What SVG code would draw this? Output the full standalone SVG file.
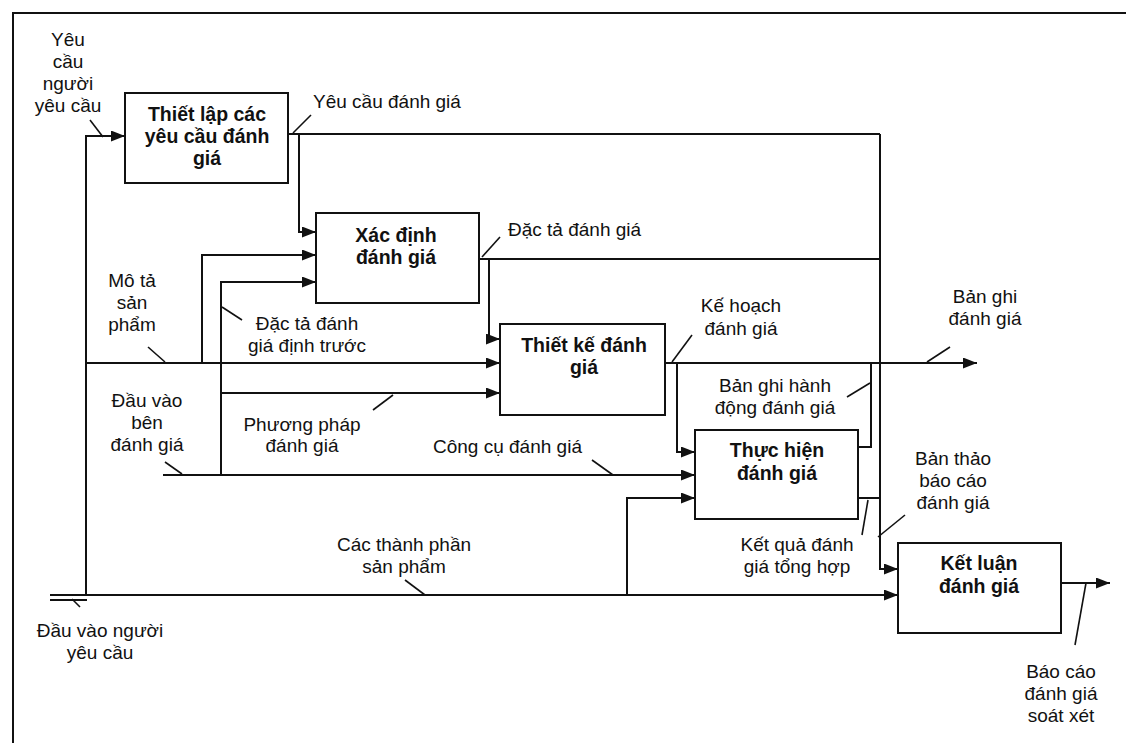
<svg xmlns="http://www.w3.org/2000/svg" width="1126" height="743" viewBox="0 0 1126 743">
<style>
.box{fill:#fff;stroke:#111;stroke-width:2}
.ln{fill:none;stroke:#111;stroke-width:2}
.ld{fill:none;stroke:#111;stroke-width:1.6}
.t{font-family:"Liberation Sans",Arial,sans-serif;font-size:19px;fill:#111}
.b{font-family:"Liberation Sans",Arial,sans-serif;font-size:19.5px;font-weight:bold;fill:#111;text-anchor:middle}
.m{text-anchor:middle}
</style>
<defs>
<marker id="ah" markerUnits="userSpaceOnUse" markerWidth="14" markerHeight="11" refX="14" refY="5.5" orient="auto">
<path d="M0,0 L14,5.5 L0,11 z" fill="#111"/>
</marker>
</defs>
<rect width="1126" height="743" fill="#fff"/>
<path class="ln" d="M13,743 V13 H1126"/>

<g id="connectors">
<path class="ln" d="M50,595 H898" marker-end="url(#ah)"/>
<path class="ln" d="M50,600 H87"/>
<path class="ln" d="M86,595 V136 H125" marker-end="url(#ah)"/>
<path class="ln" d="M86,363 H500" marker-end="url(#ah)"/>
<path class="ln" d="M202,363 V255 H316" marker-end="url(#ah)"/>
<path class="ln" d="M163,475 H695" marker-end="url(#ah)"/>
<path class="ln" d="M221,475 V282 H316" marker-end="url(#ah)"/>
<path class="ln" d="M221,393 H500" marker-end="url(#ah)"/>
<path class="ln" d="M627,595 V498 H695" marker-end="url(#ah)"/>
<path class="ln" d="M288,134 H880"/>
<path class="ln" d="M299,134 V232 H316" marker-end="url(#ah)"/>
<path class="ln" d="M479,259 H880"/>
<path class="ln" d="M489,259 V339 H500" marker-end="url(#ah)"/>
<path class="ln" d="M665,363 H977" marker-end="url(#ah)"/>
<path class="ln" d="M677,363 V452 H695" marker-end="url(#ah)"/>
<path class="ln" d="M880,134 V569 H898" marker-end="url(#ah)"/>
<path class="ln" d="M858,447 H871 V363"/>
<path class="ln" d="M858,498 H880"/>
<path class="ln" d="M1061,583 H1110" marker-end="url(#ah)"/>
<g id="leaders">
<path class="ld" d="M90,120 L103,137"/>
<path class="ld" d="M293,133 L311,115"/>
<path class="ld" d="M482,257 L500,237"/>
<path class="ld" d="M148,347 L165,362"/>
<path class="ld" d="M222,307 L242,320"/>
<path class="ld" d="M373,410 L393,395"/>
<path class="ld" d="M165,462 L182,474"/>
<path class="ld" d="M592,460 L613,475"/>
<path class="ld" d="M672,362 L692,335"/>
<path class="ld" d="M927,362 L950,347"/>
<path class="ld" d="M847,397 L870,383"/>
<path class="ld" d="M868,500 L862,535"/>
<path class="ld" d="M878,537 L905,515"/>
<path class="ld" d="M1086,583 L1075,645"/>
<path class="ld" d="M405,580 L425,595"/>
<path class="ld" d="M72,599 L80,607"/>
</g>
</g>

<g id="n1">
<rect class="box" x="125" y="93" width="163" height="90"/>
<text class="b" x="207" y="121">Thiết lập các</text>
<text class="b" x="207" y="143">yêu cầu đánh</text>
<text class="b" x="207" y="165">giá</text>
</g>
<g id="n2">
<rect class="box" x="316" y="213" width="163" height="90"/>
<text class="b" x="396" y="242">Xác định</text>
<text class="b" x="396" y="264">đánh giá</text>
</g>
<g id="n3">
<rect class="box" x="500" y="324" width="165" height="91"/>
<text class="b" x="584" y="352">Thiết kế đánh</text>
<text class="b" x="584" y="374">giá</text>
</g>
<g id="n4">
<rect class="box" x="695" y="430" width="163" height="89"/>
<text class="b" x="777" y="457">Thực hiện</text>
<text class="b" x="777" y="480">đánh giá</text>
</g>
<g id="n5">
<rect class="box" x="898" y="543" width="163" height="90"/>
<text class="b" x="979" y="570">Kết luận</text>
<text class="b" x="979" y="593">đánh giá</text>
</g>

<g id="labels">
<text class="t m"><tspan x="68" y="46">Yêu</tspan><tspan x="68" y="68">cầu</tspan><tspan x="68" y="90">người</tspan><tspan x="68" y="112">yêu cầu</tspan></text>
<text class="t" x="313" y="108">Yêu cầu đánh giá</text>
<text class="t" x="508" y="236">Đặc tả đánh giá</text>
<text class="t m"><tspan x="132" y="287">Mô tả</tspan><tspan x="132" y="309">sản</tspan><tspan x="132" y="331">phẩm</tspan></text>
<text class="t m"><tspan x="307" y="330">Đặc tả đánh</tspan><tspan x="307" y="352">giá định trước</tspan></text>
<text class="t m"><tspan x="741" y="312">Kế hoạch</tspan><tspan x="741" y="335">đánh giá</tspan></text>
<text class="t m"><tspan x="985" y="303">Bản ghi</tspan><tspan x="985" y="325">đánh giá</tspan></text>
<text class="t m"><tspan x="775" y="392">Bản ghi hành</tspan><tspan x="775" y="414">động đánh giá</tspan></text>
<text class="t m"><tspan x="302" y="431">Phương pháp</tspan><tspan x="302" y="452">đánh giá</tspan></text>
<text class="t m"><tspan x="147" y="407">Đầu vào</tspan><tspan x="147" y="429">bên</tspan><tspan x="147" y="451">đánh giá</tspan></text>
<text class="t" x="433" y="453">Công cụ đánh giá</text>
<text class="t m"><tspan x="953" y="465">Bản thảo</tspan><tspan x="953" y="487">báo cáo</tspan><tspan x="953" y="509">đánh giá</tspan></text>
<text class="t m"><tspan x="797" y="551">Kết quả đánh</tspan><tspan x="797" y="573">giá tổng hợp</tspan></text>
<text class="t m"><tspan x="404" y="551">Các thành phần</tspan><tspan x="404" y="573">sản phẩm</tspan></text>
<text class="t m"><tspan x="100" y="637">Đầu vào người</tspan><tspan x="100" y="659">yêu cầu</tspan></text>
<text class="t m"><tspan x="1061" y="678">Báo cáo</tspan><tspan x="1061" y="700">đánh giá</tspan><tspan x="1061" y="722">soát xét</tspan></text>
</g>
</svg>
